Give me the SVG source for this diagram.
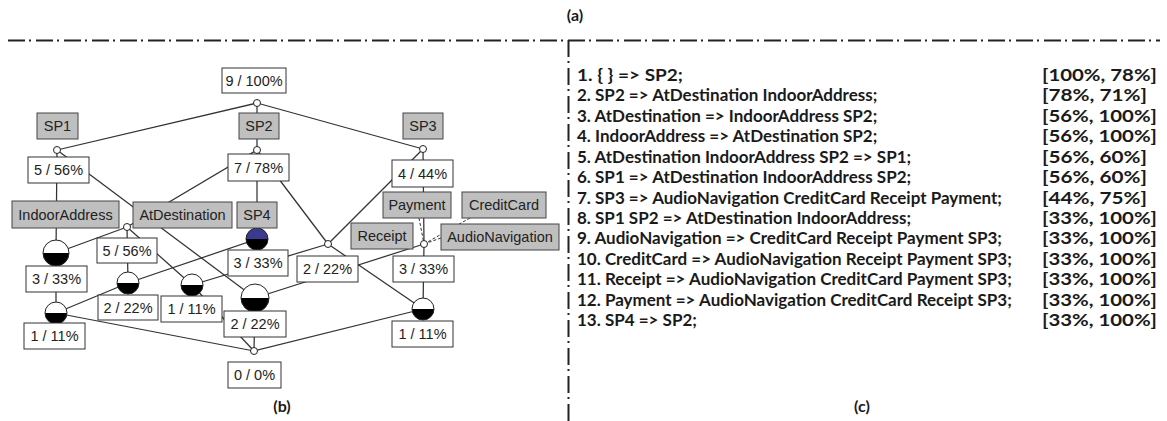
<svg xmlns="http://www.w3.org/2000/svg" width="1167" height="421" viewBox="0 0 1167 421">
<style>
.edge{stroke:#333;stroke-width:1.25;fill:none}
.dash{stroke:#333;stroke-width:1;stroke-dasharray:3 2;fill:none}
.lbl{fill:#fff;stroke:#333;stroke-width:1}
.attr{fill:#bfbfbf;stroke:#444;stroke-width:1}
.t{font-family:"Liberation Sans",Arial,sans-serif;font-size:14.5px;fill:#222;text-anchor:middle}
.pt{fill:#fff;stroke:#222;stroke-width:1}
.ring{fill:none;stroke:#222;stroke-width:1}
.rule{font-family:Lato,"Open Sans",sans-serif;font-weight:700;font-size:17px;fill:#1a1a1a}
.cap{font-family:Lato,"Open Sans",sans-serif;font-weight:700;font-size:16px;fill:#1a1a1a;text-anchor:middle}
.sep{stroke:#222;stroke-width:2;stroke-dasharray:17 4 2 5;fill:none}
</style>

<!-- panel separators -->
<g id="separators">
  <line class="sep" x1="8" y1="40.5" x2="1160" y2="40.5"/>
  <line class="sep" x1="568.5" y1="40" x2="568.5" y2="421"/>
</g>

<!-- lattice edges -->
<g id="connectors">
  <line class="edge" x1="257" y1="103" x2="57" y2="150"/>
  <line class="edge" x1="257" y1="103" x2="257" y2="150"/>
  <line class="edge" x1="257" y1="103" x2="423" y2="149"/>
  <line class="edge" x1="57" y1="150" x2="56" y2="253"/>
  <line class="edge" x1="57" y1="150" x2="255" y2="298"/>
  <line class="edge" x1="257" y1="150" x2="127" y2="227"/>
  <line class="edge" x1="257" y1="150" x2="257" y2="239"/>
  <line class="edge" x1="257" y1="150" x2="328" y2="244"/>
  <line class="edge" x1="423" y1="149" x2="328" y2="244"/>
  <line class="edge" x1="423" y1="149" x2="424" y2="244"/>
  <line class="edge" x1="127" y1="227" x2="56" y2="253"/>
  <line class="edge" x1="127" y1="227" x2="128" y2="283"/>
  <line class="edge" x1="127" y1="227" x2="192" y2="285"/>
  <line class="edge" x1="257" y1="239" x2="128" y2="283"/>
  <line class="edge" x1="128" y1="283" x2="56" y2="313"/>
  <line class="edge" x1="56" y1="253" x2="56" y2="313"/>
  <line class="edge" x1="328" y1="244" x2="192" y2="285"/>
  <line class="edge" x1="328" y1="244" x2="423" y2="309"/>
  <line class="edge" x1="424" y1="244" x2="255" y2="298"/>
  <line class="edge" x1="424" y1="244" x2="423" y2="309"/>
  <line class="edge" x1="56" y1="313" x2="254" y2="351"/>
  <line class="edge" x1="192" y1="285" x2="254" y2="351"/>
  <line class="edge" x1="255" y1="298" x2="254" y2="351"/>
  <line class="edge" x1="423" y1="309" x2="254" y2="351"/>
  <!-- label leaders -->
  <line class="dash" x1="419" y1="218" x2="424" y2="244"/>
  <line class="dash" x1="441" y1="238" x2="424" y2="244"/>
  <line class="dash" x1="470" y1="218" x2="424" y2="244"/>
</g>

<!-- concept nodes -->
<g id="node-top"><circle class="pt" cx="257" cy="103" r="3.5"/></g>
<g id="node-sp1"><circle class="pt" cx="57" cy="150" r="3.5"/></g>
<g id="node-sp2"><circle class="pt" cx="257" cy="150" r="3.5"/></g>
<g id="node-sp3"><circle class="pt" cx="423" cy="149" r="3.5"/></g>
<g id="node-atindoor"><circle class="pt" cx="127" cy="227" r="3.5"/></g>
<g id="node-mid"><circle class="pt" cx="328" cy="244" r="3.5"/></g>
<g id="node-pay"><circle class="pt" cx="424" cy="244" r="3.5"/></g>
<g id="node-bottom"><circle class="pt" cx="254" cy="351" r="3.5"/></g>
<g id="node-ind3">
  <circle cx="56" cy="253" r="13" fill="#fff"/>
  <path d="M43 253A13 13 0 0 0 69 253Z" fill="#000"/>
  <circle class="ring" cx="56" cy="253" r="13"/>
</g>
<g id="node-22a">
  <circle cx="128" cy="283" r="11" fill="#fff"/>
  <path d="M117 283A11 11 0 0 0 139 283Z" fill="#000"/>
  <circle class="ring" cx="128" cy="283" r="11"/>
</g>
<g id="node-11a">
  <circle cx="192" cy="285" r="11" fill="#fff"/>
  <path d="M181 285A11 11 0 0 0 203 285Z" fill="#000"/>
  <circle class="ring" cx="192" cy="285" r="11"/>
</g>
<g id="node-big">
  <circle cx="255" cy="298" r="14" fill="#fff"/>
  <path d="M241 298A14 14 0 0 0 269 298Z" fill="#000"/>
  <circle class="ring" cx="255" cy="298" r="14"/>
</g>
<g id="node-11b">
  <circle cx="56" cy="313" r="11" fill="#fff"/>
  <path d="M45 313A11 11 0 0 0 67 313Z" fill="#000"/>
  <circle class="ring" cx="56" cy="313" r="11"/>
</g>
<g id="node-right">
  <circle cx="423" cy="309" r="11" fill="#fff"/>
  <path d="M412 309A11 11 0 0 0 434 309Z" fill="#000"/>
  <circle class="ring" cx="423" cy="309" r="11"/>
</g>
<g id="node-sp4">
  <circle cx="257" cy="239" r="11" fill="#3c3a8e"/>
  <path d="M246 239A11 11 0 0 0 268 239Z" fill="#000"/>
  <circle class="ring" cx="257" cy="239" r="11"/>
</g>

<!-- node labels -->
<g id="label-top"><rect class="lbl" x="222" y="68" width="64" height="25"/><text class="t" x="254" y="85.5">9 / 100%</text></g>
<g id="label-sp1"><rect class="attr" x="37" y="113" width="41" height="26"/><text class="t" x="57.5" y="131">SP1</text></g>
<g id="label-sp2"><rect class="attr" x="239" y="113" width="40" height="26"/><text class="t" x="259" y="131">SP2</text></g>
<g id="label-sp3"><rect class="attr" x="403" y="113" width="40" height="26"/><text class="t" x="423" y="131">SP3</text></g>
<g id="label-sp1-ext"><rect class="lbl" x="28" y="157" width="61" height="26"/><text class="t" x="58.5" y="175">5 / 56%</text></g>
<g id="label-sp2-ext"><rect class="lbl" x="228" y="154" width="61" height="27"/><text class="t" x="258.5" y="172.5">7 / 78%</text></g>
<g id="label-sp3-ext"><rect class="lbl" x="392" y="160" width="61" height="27"/><text class="t" x="422.5" y="178.5">4 / 44%</text></g>
<g id="label-indoor"><rect class="attr" x="12" y="201" width="107" height="27"/><text class="t" x="65.5" y="219.5">IndoorAddress</text></g>
<g id="label-atdest"><rect class="attr" x="133" y="202" width="99" height="26"/><text class="t" x="182.5" y="220">AtDestination</text></g>
<g id="label-sp4"><rect class="attr" x="237" y="202" width="40" height="26"/><text class="t" x="257" y="220">SP4</text></g>
<g id="label-payment"><rect class="attr" x="383" y="192" width="68" height="26"/><text class="t" x="417" y="210">Payment</text></g>
<g id="label-credit"><rect class="attr" x="462" y="192" width="84" height="26"/><text class="t" x="504" y="210">CreditCard</text></g>
<g id="label-receipt"><rect class="attr" x="351" y="223" width="62" height="26"/><text class="t" x="382" y="241">Receipt</text></g>
<g id="label-audio"><rect class="attr" x="441" y="224" width="118" height="26"/><text class="t" x="500" y="242">AudioNavigation</text></g>
<g id="label-atindoor-ext"><rect class="lbl" x="97" y="238" width="60" height="25"/><text class="t" x="127" y="255.5">5 / 56%</text></g>
<g id="label-sp4-ext"><rect class="lbl" x="228" y="250" width="60" height="26"/><text class="t" x="258" y="268">3 / 33%</text></g>
<g id="label-mid-ext"><rect class="lbl" x="297" y="256" width="61" height="26"/><text class="t" x="327.5" y="274">2 / 22%</text></g>
<g id="label-pay-ext"><rect class="lbl" x="393" y="256" width="61" height="26"/><text class="t" x="423.5" y="274">3 / 33%</text></g>
<g id="label-ind3-ext"><rect class="lbl" x="26" y="266" width="61" height="26"/><text class="t" x="56.5" y="284">3 / 33%</text></g>
<g id="label-22a-ext"><rect class="lbl" x="98" y="295" width="60" height="25"/><text class="t" x="128" y="312.5">2 / 22%</text></g>
<g id="label-11a-ext"><rect class="lbl" x="161" y="296" width="61" height="26"/><text class="t" x="191.5" y="314">1 / 11%</text></g>
<g id="label-big-ext"><rect class="lbl" x="224" y="311" width="62" height="26"/><text class="t" x="255" y="329">2 / 22%</text></g>
<g id="label-11b-ext"><rect class="lbl" x="24" y="323" width="61" height="26"/><text class="t" x="54.5" y="341">1 / 11%</text></g>
<g id="label-right-ext"><rect class="lbl" x="392" y="321" width="61" height="26"/><text class="t" x="422.5" y="339">1 / 11%</text></g>
<g id="label-bottom"><rect class="lbl" x="228" y="362" width="53" height="26"/><text class="t" x="254.5" y="380">0 / 0%</text></g>

<!-- association rules -->
<g id="rules">
  <text class="rule" x="577" y="81" textLength="106" lengthAdjust="spacingAndGlyphs">1. { } =&gt; SP2;</text>
  <text class="rule" x="577" y="101.4">2. SP2 =&gt; AtDestination IndoorAddress;</text>
  <text class="rule" x="577" y="121.8">3. AtDestination =&gt; IndoorAddress SP2;</text>
  <text class="rule" x="577" y="142.3">4. IndoorAddress =&gt; AtDestination SP2;</text>
  <text class="rule" x="577" y="162.7">5. AtDestination IndoorAddress SP2 =&gt; SP1;</text>
  <text class="rule" x="577" y="183.1">6. SP1 =&gt; AtDestination IndoorAddress SP2;</text>
  <text class="rule" x="577" y="203.5">7. SP3 =&gt; AudioNavigation CreditCard Receipt Payment;</text>
  <text class="rule" x="577" y="223.9">8. SP1 SP2 =&gt; AtDestination IndoorAddress;</text>
  <text class="rule" x="577" y="244.4">9. AudioNavigation =&gt; CreditCard Receipt Payment SP3;</text>
  <text class="rule" x="577" y="264.8">10. CreditCard =&gt; AudioNavigation Receipt Payment SP3;</text>
  <text class="rule" x="577" y="285.2">11. Receipt =&gt; AudioNavigation CreditCard Payment SP3;</text>
  <text class="rule" x="577" y="305.6">12. Payment =&gt; AudioNavigation CreditCard Receipt SP3;</text>
  <text class="rule" x="577" y="326">13. SP4 =&gt; SP2;</text>
  <text class="rule" x="1042" y="81" textLength="115" lengthAdjust="spacingAndGlyphs">[100%, 78%]</text>
  <text class="rule" x="1042" y="101.4" textLength="105" lengthAdjust="spacingAndGlyphs">[78%, 71%]</text>
  <text class="rule" x="1042" y="121.8" textLength="115" lengthAdjust="spacingAndGlyphs">[56%, 100%]</text>
  <text class="rule" x="1042" y="142.3" textLength="115" lengthAdjust="spacingAndGlyphs">[56%, 100%]</text>
  <text class="rule" x="1042" y="162.7" textLength="105" lengthAdjust="spacingAndGlyphs">[56%, 60%]</text>
  <text class="rule" x="1042" y="183.1" textLength="105" lengthAdjust="spacingAndGlyphs">[56%, 60%]</text>
  <text class="rule" x="1042" y="203.5" textLength="105" lengthAdjust="spacingAndGlyphs">[44%, 75%]</text>
  <text class="rule" x="1042" y="223.9" textLength="115" lengthAdjust="spacingAndGlyphs">[33%, 100%]</text>
  <text class="rule" x="1042" y="244.4" textLength="115" lengthAdjust="spacingAndGlyphs">[33%, 100%]</text>
  <text class="rule" x="1042" y="264.8" textLength="115" lengthAdjust="spacingAndGlyphs">[33%, 100%]</text>
  <text class="rule" x="1042" y="285.2" textLength="115" lengthAdjust="spacingAndGlyphs">[33%, 100%]</text>
  <text class="rule" x="1042" y="305.6" textLength="115" lengthAdjust="spacingAndGlyphs">[33%, 100%]</text>
  <text class="rule" x="1042" y="326" textLength="115" lengthAdjust="spacingAndGlyphs">[33%, 100%]</text>
</g>

<!-- panel captions -->
<g id="captions">
  <text class="cap" x="575" y="21">(a)</text>
  <text class="cap" x="282" y="412">(b)</text>
  <text class="cap" x="862" y="412">(c)</text>
</g>
</svg>
